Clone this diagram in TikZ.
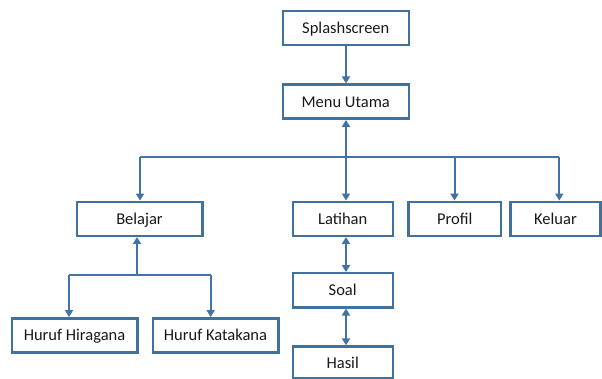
\documentclass[tikz,border=0pt]{standalone}
\usepackage{fontspec}
\setmainfont{Carlito}
\usetikzlibrary{arrows.meta}
\definecolor{boxblue}{HTML}{41719C}
\definecolor{lineblue}{HTML}{4273A6}
\begin{document}
\begin{tikzpicture}[x=1pt,y=-1pt,
  box/.style={draw=boxblue,line width=2.4pt,inner sep=0pt,fill=white,
    minimum height=34pt,text height=11pt,text depth=0pt,
    font=\fontsize{16.5}{18}\selectfont,text=black!90},
  conn/.style={draw=lineblue,line width=2pt},
  arr/.style={conn,-{Triangle[length=7pt,width=8pt]}},
  darr/.style={conn,{Triangle[length=7pt,width=8pt]}-{Triangle[length=7pt,width=8pt]}}]
\useasboundingbox (0,0) rectangle (602,379);
\fill[white] (0,0) rectangle (602,379);
% boxes
\node[box,minimum width=126pt] (splash) at (345.8,27.8) {Splashscreen};
\node[box,minimum width=126pt] (menu) at (345.7,101.7) {Menu Utama};
\node[box,minimum width=125.6pt] (belajar) at (139.5,218.8) {Belajar};
\node[box,minimum width=100pt] (latihan) at (342.7,218.8) {Latihan};
\node[box,minimum width=92.7pt] (profil) at (454.7,218.8) {Profil};
\node[box,minimum width=90pt] (keluar) at (555.5,218.8) {Keluar};
\node[box,minimum width=125.6pt] (hiragana) at (74.5,335.3) {Huruf Hiragana};
\node[box,minimum width=125.6pt] (katakana) at (215.5,335.3) {Huruf Katakana};
\node[box,minimum width=100pt] (soal) at (342.7,290.3) {Soal};
\node[box,minimum width=100pt,minimum height=32pt] (hasil) at (342.7,362.5) {Hasil};
% bus coordinates
\coordinate (bus) at (346,157);
\coordinate (b1) at (140,157);
\coordinate (b3) at (454.5,157);
\coordinate (b2) at (559.3,157);
\coordinate (c0) at (137,275);
\coordinate (c1) at (69,275);
\coordinate (c2) at (210.7,275);
% connectors
\draw[arr] (splash.south -| bus) -- (menu.north -| bus);
\draw[conn] (b1) -- (b2);
\draw[arr] (bus) -- (bus |- menu.south);
\draw[arr] (b1) -- (b1 |- belajar.north);
\draw[arr] (bus) -- (bus |- latihan.north);
\draw[arr] (b3) -- (b3 |- profil.north);
\draw[arr] (b2) -- (b2 |- keluar.north);
\draw[conn] (c1) -- (c2);
\draw[arr] (c0) -- (c0 |- belajar.south);
\draw[arr] (c1) -- (c1 |- hiragana.north);
\draw[arr] (c2) -- (c2 |- katakana.north);
\draw[darr] (latihan.south -| bus) -- (soal.north -| bus);
\draw[darr] (soal.south -| bus) -- (hasil.north -| bus);
\end{tikzpicture}
\end{document}
